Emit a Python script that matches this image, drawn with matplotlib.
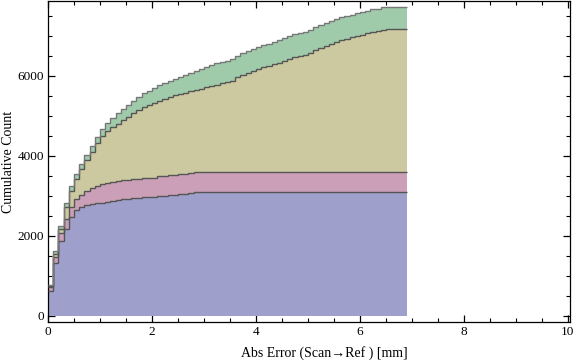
import numpy as np
import matplotlib
matplotlib.use("Agg")
import matplotlib.pyplot as plt
from matplotlib.ticker import MultipleLocator

# Histogram bins: 0.1 mm wide, 0 .. 6.9 mm
bin_edges = np.round(np.arange(0, 6.95, 0.1), 2)

# Cumulative counts per series
series_a = [630, 1330, 1865, 2185, 2480, 2640, 2720, 2775, 2800, 2815,
            2830, 2850, 2865, 2890, 2915, 2915, 2940, 2940, 2965, 2965,
            2965, 2990, 2990, 3015, 3015, 3040, 3040, 3065] + [3090] * 41
series_b = [100, 150, 220, 230, 255, 290, 315, 355, 400, 435,
            460, 475, 485, 490, 490, 490, 490, 490, 495, 495,
            495, 500, 500, 500, 500, 500, 500, 500] + [505] * 41
series_c = [30, 70, 100, 305, 385, 495, 632, 760, 910, 1070,
            1210, 1295, 1370, 1410, 1495, 1578, 1653, 1720, 1757, 1823,
            1873, 1893, 1943, 1952, 2002, 2010, 2043, 2052, 2055, 2088,
            2122, 2155, 2188, 2222, 2255, 2288, 2372, 2422, 2472, 2522,
            2572, 2622, 2655, 2705, 2738, 2788, 2838, 2888, 2905, 2938,
            2988, 3055, 3105, 3155, 3205, 3255, 3305, 3338, 3372, 3405,
            3438, 3472, 3505, 3522, 3555, 3572, 3572, 3572, 3572]
series_d = [25, 65, 65, 100, 130, 135, 140, 145, 150, 160,
            170, 200, 220, 277, 283, 300, 300, 333, 350, 350,
            367, 384, 400, 416, 416, 433, 450, 466, 475, 500,
            500, 517, 534, 534, 534, 534, 534, 550, 550, 550,
            550, 550, 550, 550, 567, 567, 567, 567, 567, 567,
            567, 567, 567, 567, 567, 567, 567, 567, 567, 567,
            567, 567, 567, 567, 567, 567, 567, 567, 567]

fill_colors = ["#9f9fcc", "#cc9fb8", "#ccc8a0", "#9fcbab"]
edge_colors = ["#555555", "#555555", "#555555", "#777777"]

x_ticks = [0, 2, 4, 6, 8, 10]
y_ticks = [0, 2000, 4000, 6000]

plt.rcParams['font.family'] = ['Liberation Serif', 'DejaVu Serif']

fig = plt.figure(figsize=(5.76, 3.62), dpi=100)
ax = fig.add_axes([48 / 576, 40 / 362, 522 / 576, 321 / 362])

layers = [series_a, series_b, series_c, series_d]
base = np.zeros(len(series_a))
for vals, fc, ec in zip(layers, fill_colors, edge_colors):
    top = base + np.array(vals, dtype=float)
    ax.stairs(top, bin_edges, baseline=base, fill=True, color=fc, lw=0, zorder=2)
    base = top
base = np.zeros(len(series_a))
for vals, fc, ec in zip(layers, fill_colors, edge_colors):
    top = base + np.array(vals, dtype=float)
    ax.stairs(top, bin_edges, baseline=None, fill=False, color=ec, lw=1.0, zorder=3)
    base = top

ax.set_xlim(0, 10.04)
ax.set_ylim(-150, 7875)
ax.set_xticks(x_ticks)
ax.set_yticks(y_ticks)
ax.xaxis.set_minor_locator(MultipleLocator(0.5))
ax.yaxis.set_minor_locator(MultipleLocator(500))
ax.tick_params(which='both', direction='in', top=True, right=True,
               labelsize=9.5, color='black', pad=3)
ax.tick_params(which='major', length=5, width=0.9)
ax.tick_params(which='minor', length=3, width=0.8)
for s in ax.spines.values():
    s.set_linewidth(0.9)
    s.set_color('black')

ax.set_xlabel("Abs Error (Scan\u2192Ref ) [mm]", fontsize=10)
ax.set_ylabel("Cumulative Count", fontsize=10)
ax.xaxis.set_label_coords((324 - 48) / 522, -(353 - 322) / 321, transform=ax.transAxes)
ax.yaxis.set_label_coords(-(48 - 9) / 522, 0.5, transform=ax.transAxes)
ax.xaxis.label.set_va('center')
ax.yaxis.label.set_va('center')

fig.savefig("out.png", dpi=100)
